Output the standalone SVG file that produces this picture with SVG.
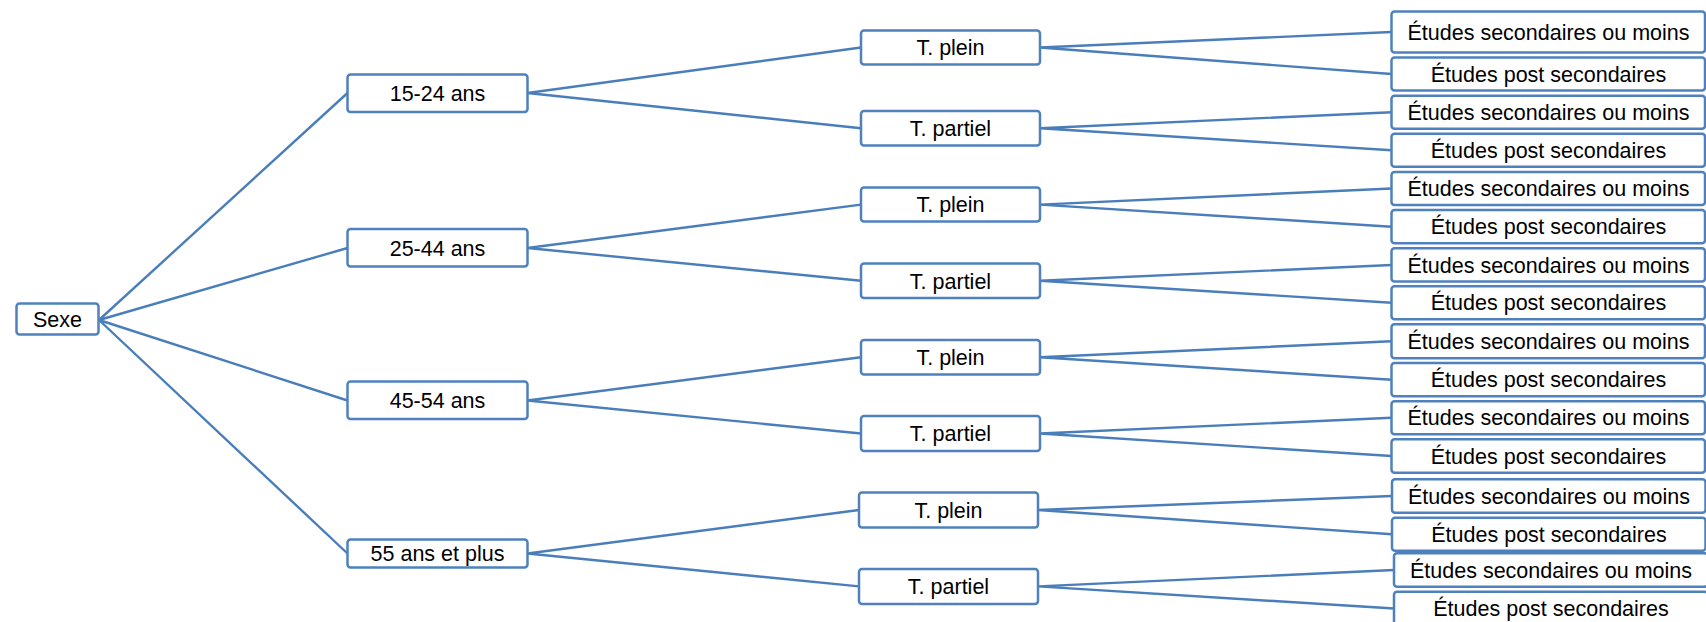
<svg xmlns="http://www.w3.org/2000/svg" width="1706" height="622" viewBox="0 0 1706 622">
<style>
.box{fill:#fff;stroke:#4f81bd;stroke-width:2.5}
.ln{stroke:#4a7ebb;stroke-width:2.4;fill:none}
text{font-family:"Liberation Sans",Arial,sans-serif;font-size:21.5px;fill:#000;text-anchor:middle}
</style>
<rect width="1706" height="622" fill="#fff"/>
<g id="connectors">
<path class="ln" d="M99 320 L347.5 93 M99 320 L347.5 248 M99 320 L347.5 400.5 M99 320 L347.5 553.5"/>
<path class="ln" d="M527.5 93 L861 47.5 M527.5 93 L861 128.3 M527.5 248 L861 204.6 M527.5 248 L861 280.7 M527.5 400.5 L861 357.2 M527.5 400.5 L861 433.5 M527.5 553.5 L859 510 M527.5 553.5 L859 586.4"/>
<path class="ln" d="M1040 47.5 L1391.5 32 M1040 47.5 L1391.5 74 M1040 128.3 L1391.5 112.2 M1040 128.3 L1391.5 150.2 M1040 204.6 L1391.5 188.5 M1040 204.6 L1391.5 226.7 M1040 280.7 L1391.5 265 M1040 280.7 L1391.5 302.8 M1040 357.2 L1391.5 341.3 M1040 357.2 L1391.5 379.7 M1040 433.5 L1391.5 417.8 M1040 433.5 L1391.5 456 M1038 510 L1392 496 M1038 510 L1392 534.2 M1038 586.4 L1394 570 M1038 586.4 L1394 608.5"/>
</g>
<g id="n-sexe"><rect class="box" x="16.5" y="303.5" width="82" height="31" rx="3"/><text x="57.5" y="326.5">Sexe</text></g>
<g id="n-15-24"><rect class="box" x="347.5" y="74.5" width="180" height="37.5" rx="3"/><text x="437.5" y="100.5">15-24 ans</text></g>
<g id="n-25-44"><rect class="box" x="347.5" y="229" width="180" height="37.5" rx="3"/><text x="437.5" y="255.5">25-44 ans</text></g>
<g id="n-45-54"><rect class="box" x="347.5" y="381.5" width="180" height="37.5" rx="3"/><text x="437.5" y="408">45-54 ans</text></g>
<g id="n-55"><rect class="box" x="347.5" y="539.5" width="180" height="28" rx="3"/><text x="437.5" y="561">55 ans et plus</text></g>
<g id="n-tp1"><rect class="box" x="861" y="30.5" width="179" height="34" rx="3"/><text x="950.5" y="55">T. plein</text></g>
<g id="n-tpa1"><rect class="box" x="861" y="111" width="179" height="34.5" rx="3"/><text x="950.5" y="136">T. partiel</text></g>
<g id="n-tp2"><rect class="box" x="861" y="187.5" width="179" height="34" rx="3"/><text x="950.5" y="212">T. plein</text></g>
<g id="n-tpa2"><rect class="box" x="861" y="263.5" width="179" height="34.5" rx="3"/><text x="950.5" y="288.5">T. partiel</text></g>
<g id="n-tp3"><rect class="box" x="861" y="340" width="179" height="34.5" rx="3"/><text x="950.5" y="365">T. plein</text></g>
<g id="n-tpa3"><rect class="box" x="861" y="416" width="179" height="35" rx="3"/><text x="950.5" y="441">T. partiel</text></g>
<g id="n-tp4"><rect class="box" x="859" y="492.5" width="179" height="35" rx="3"/><text x="948.5" y="517.5">T. plein</text></g>
<g id="n-tpa4"><rect class="box" x="859" y="569" width="179" height="35" rx="3"/><text x="948.5" y="594">T. partiel</text></g>
<g id="n-l1"><rect class="box" x="1391.5" y="11.5" width="313.5" height="41" rx="3"/><text x="1548.5" y="39.5">Études secondaires ou moins</text></g>
<g id="n-l2"><rect class="box" x="1391.5" y="57.5" width="313.5" height="33" rx="3"/><text x="1548.5" y="81.5">Études post secondaires</text></g>
<g id="n-l3"><rect class="box" x="1391.5" y="95.7" width="313.5" height="33" rx="3"/><text x="1548.5" y="119.7">Études secondaires ou moins</text></g>
<g id="n-l4"><rect class="box" x="1391.5" y="133.7" width="313.5" height="33" rx="3"/><text x="1548.5" y="157.7">Études post secondaires</text></g>
<g id="n-l5"><rect class="box" x="1391.5" y="172" width="313.5" height="33" rx="3"/><text x="1548.5" y="196">Études secondaires ou moins</text></g>
<g id="n-l6"><rect class="box" x="1391.5" y="210" width="313.5" height="33.3" rx="3"/><text x="1548.5" y="234.2">Études post secondaires</text></g>
<g id="n-l7"><rect class="box" x="1391.5" y="248.3" width="313.5" height="33.3" rx="3"/><text x="1548.5" y="272.5">Études secondaires ou moins</text></g>
<g id="n-l8"><rect class="box" x="1391.5" y="286.3" width="313.5" height="33" rx="3"/><text x="1548.5" y="310.3">Études post secondaires</text></g>
<g id="n-l9"><rect class="box" x="1391.5" y="324.3" width="313.5" height="34" rx="3"/><text x="1548.5" y="348.8">Études secondaires ou moins</text></g>
<g id="n-l10"><rect class="box" x="1391.5" y="363" width="313.5" height="33.3" rx="3"/><text x="1548.5" y="387.2">Études post secondaires</text></g>
<g id="n-l11"><rect class="box" x="1391.5" y="401.3" width="313.5" height="33" rx="3"/><text x="1548.5" y="425.3">Études secondaires ou moins</text></g>
<g id="n-l12"><rect class="box" x="1391.5" y="439.3" width="313.5" height="33.4" rx="3"/><text x="1548.5" y="463.5">Études post secondaires</text></g>
<g id="n-l13"><rect class="box" x="1392" y="479.3" width="313.5" height="33.4" rx="3"/><text x="1549" y="503.5">Études secondaires ou moins</text></g>
<g id="n-l14"><rect class="box" x="1392" y="517.7" width="313.5" height="33" rx="3"/><text x="1549" y="541.7">Études post secondaires</text></g>
<g id="n-l15"><rect class="box" x="1394" y="553.3" width="313.5" height="33.4" rx="3"/><text x="1551" y="577.5">Études secondaires ou moins</text></g>
<g id="n-l16"><rect class="box" x="1394" y="591.7" width="313.5" height="34" rx="3"/><text x="1551" y="616">Études post secondaires</text></g>
</svg>
